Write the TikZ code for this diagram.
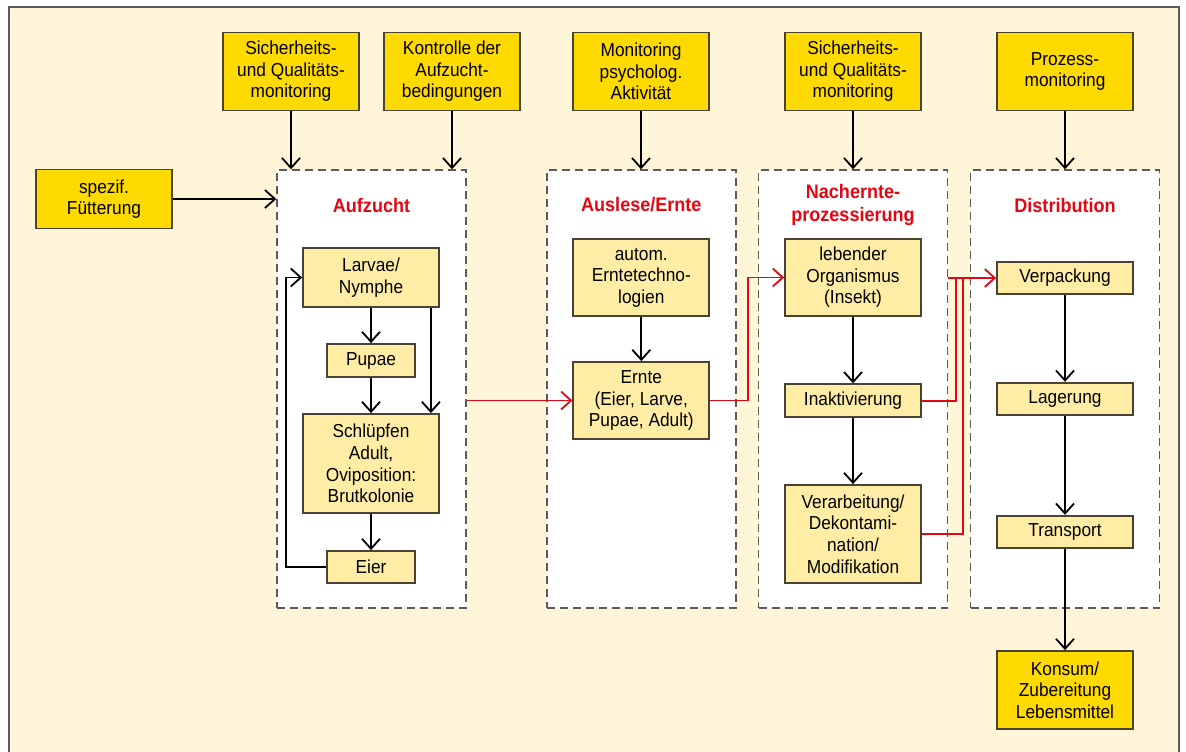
\documentclass[tikz,border=0pt]{standalone}
\usepackage{fontspec}
\setmainfont{Liberation Sans}[FakeStretch=0.92]
\usetikzlibrary{arrows.meta}
\usetikzlibrary{calc,positioning}

\definecolor{cream}{HTML}{FFF5D8}
\definecolor{gold}{HTML}{FFDA00}
\definecolor{paleyellow}{HTML}{FFEDA6}
\definecolor{signalred}{HTML}{E30613}
\definecolor{framegray}{HTML}{5A5A5A}
\definecolor{boxedge}{HTML}{4A4232}

\begin{document}
\begin{tikzpicture}[x=0.5pt, y=-0.5pt,
    >={Straight Barb[length=5pt,width=9pt]},
    every node/.style={inner sep=1pt, align=center},
    topbox/.style={draw=boxedge, line width=0.9pt, fill=gold, minimum width=68pt, minimum height=39pt,
        font=\fontsize{9.4}{10.8}\selectfont},
    stagebox/.style={draw=boxedge, line width=0.9pt, fill=paleyellow, minimum width=68pt,
        font=\fontsize{9.4}{10.8}\selectfont},
    zone/.style={draw=framegray, dash pattern=on 4pt off 2.5pt, line width=0.7pt, fill=white,
        minimum width=94.5pt, minimum height=219pt},
    zonetitle/.style={text=signalred, font=\fontsize{9.8}{11.7}\selectfont\bfseries},
    flow/.style={->, line width=0.9pt, black},
    redflow/.style={->, line width=0.9pt, signalred},
    redline/.style={line width=0.9pt, signalred}]

    % background
    \useasboundingbox (0,0) rectangle (1186,751);
    \clip (0,0) rectangle (1186,751);
    \draw[framegray, line width=1pt, fill=cream] (8.5,7) rectangle (1179,770);

    % control boxes
    \node[topbox] (sichA) at (291,71.5) {Sicherheits-\\und Qualitäts-\\monitoring};
    \node[topbox] (kontr) at (452,71.5) {Kontrolle der\\Aufzucht-\\bedingungen};
    \node[topbox] (monit) at (641,71.5) {Monitoring\\psycholog.\\Aktivität};
    \node[topbox] (sichB) at (853,71.5) {Sicherheits-\\und Qualitäts-\\monitoring};
    \node[topbox] (proz) at (1065,71.5) {Prozess-\\monitoring};
    \node[topbox, minimum height=29.5pt] (fuett) at (104,199) {spezif.\\Fütterung};

    % stages
    \node[zone] (aufzucht) at (371.5,389) {};
    \node[zone] (auslese) at (641.3,389) {};
    \node[zone] (nachernte) at (853,389) {};
    \node[zone] (distrib) at (1065,389) {};

    \node[zonetitle] (tAufzucht) at (371.5,205) {Aufzucht};
    \node[zonetitle] (tAuslese) at (641.3,205) {Auslese/Ernte};
    \node[zonetitle] (tNachernte) at (853,205) {Nachernte-\\prozessierung};
    \node[zonetitle] (tDistrib) at (1065,205) {Distribution};

    % Aufzucht
    \node[stagebox, minimum height=29.5pt] (larvae) at (371,277.5) {Larvae/\\Nymphe};
    \node[stagebox, minimum width=44pt, minimum height=16.5pt] (pupae) at (371,360.5) {Pupae};
    \node[stagebox, minimum height=49.5pt] (schl) at (371,463.5) {Schlüpfen\\Adult,\\Oviposition:\\Brutkolonie};
    \node[stagebox, minimum width=44pt, minimum height=16pt] (eier) at (371,567) {Eier};

    % Auslese/Ernte
    \node[stagebox, minimum height=38.5pt] (autom) at (641.3,277.7) {autom.\\Erntetechno-\\logien};
    \node[stagebox, minimum height=38.5pt] (ernte) at (641.3,400.5) {Ernte\\(Eier, Larve,\\Pupae, Adult)};

    % Nachernte
    \node[stagebox, minimum height=38.5pt] (leb) at (853,277.5) {lebender\\Organismus\\(Insekt)};
    \node[stagebox, minimum height=16.5pt] (inakt) at (853,400.7) {Inaktivierung};
    \node[stagebox, minimum height=49pt] (verarb) at (853,534) {Verarbeitung/\\Dekontami-\\nation/\\Modifikation};

    % Distribution
    \node[stagebox, minimum height=16.3pt] (verp) at (1065,278) {Verpackung};
    \node[stagebox, minimum height=16.3pt] (lager) at (1065,399) {Lagerung};
    \node[stagebox, minimum height=16.3pt] (transp) at (1065,532) {Transport};
    \node[topbox] (konsum) at (1065,690) {Konsum/\\Zubereitung\\Lebensmittel};

    % control arrows
    \draw[flow] (sichA) -- (sichA |- aufzucht.north);
    \draw[flow] (kontr) -- (kontr |- aufzucht.north);
    \draw[flow] (monit) -- (monit |- auslese.north);
    \draw[flow] (sichB) -- (sichB |- nachernte.north);
    \draw[flow] (proz) -- (proz |- distrib.north);
    \draw[flow] (fuett) -- (fuett -| aufzucht.west);

    % rearing cycle
    \draw[flow] (larvae) -- (pupae);
    \draw[flow] (pupae) -- (schl);
    \draw[flow] ([xshift=-4.5pt]larvae.south east) -- ([xshift=-4.5pt]schl.north east);
    \draw[flow] (schl) -- (eier);
    \draw[flow] (eier.west) -- ++(-40,0) |- (larvae.west);

    \draw[flow] (autom) -- (ernte);
    \draw[flow] (leb) -- (inakt);
    \draw[flow] (inakt) -- (verarb);
    \draw[flow] (verp) -- (lager);
    \draw[flow] (lager) -- (transp);
    \draw[flow] (transp) -- (konsum);

    % product flow
    \draw[redflow] (aufzucht.east |- ernte) -- (ernte);
    \draw[redflow] (ernte.east) -- ++(38,0) |- (leb.west);
    \coordinate (joinA) at (956,278);
    \coordinate (joinB) at (963.3,278);
    \draw[redline] (inakt.east) -| (joinA);
    \draw[redline] (verarb.east) -| (joinB);
    \draw[redflow] (nachernte.east |- verp) -- (verp);

\end{tikzpicture}
\end{document}
